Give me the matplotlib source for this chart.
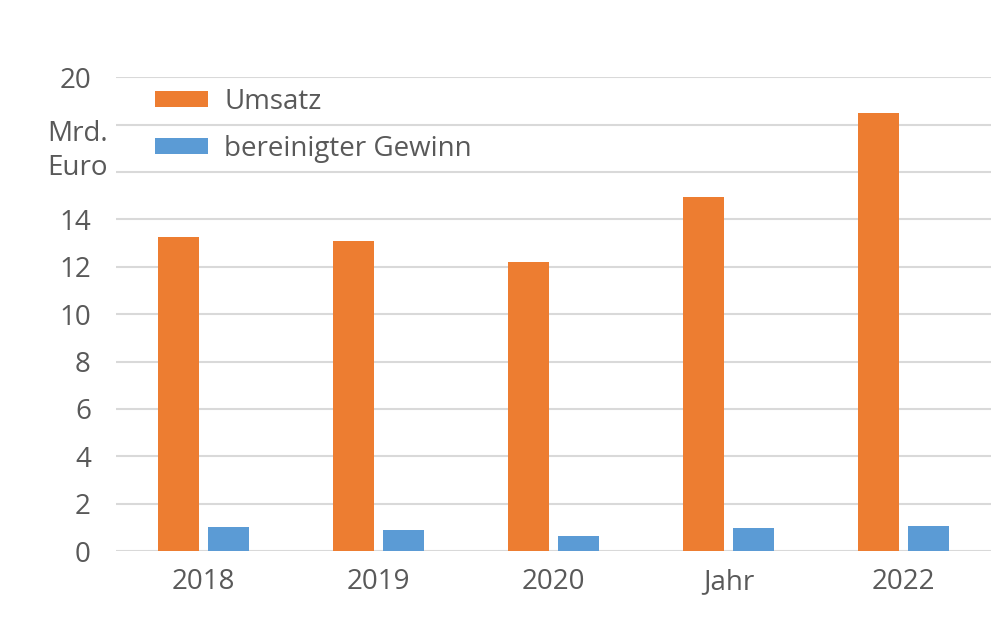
import matplotlib.pyplot as plt
import numpy as np

categories = ['2018', '2019', '2020', 'Jahr', '2022']
umsatz = [13.25, 13.1, 12.2, 14.95, 18.5]
gewinn = [1.0, 0.9, 0.65, 0.97, 1.05]
y_ticks = [0, 2, 4, 6, 8, 10, 12, 14, 16, 18, 20]
y_labels = ['0', '2', '4', '6', '8', '10', '12', '14', '', '', '20']

ORANGE = '#ED7D31'
BLUE = '#5B9BD5'
GREY = '#595959'
FS = 20

plt.rcParams['font.family'] = ['Open Sans', 'DejaVu Sans']

fig = plt.figure(figsize=(10, 6.28), dpi=100)
ax = fig.add_axes([0.116, 0.1226, 0.875, 0.7544])

x = np.arange(len(categories))
ax.bar(x - 0.143, umsatz, width=0.23, color=ORANGE, label='Umsatz', zorder=3)
ax.bar(x + 0.143, gewinn, width=0.23, color=BLUE, label='bereinigter Gewinn', zorder=3)

ax.set_xlim(-0.5, len(categories) - 0.5)
ax.set_ylim(0, 20)
ax.set_yticks(y_ticks)
ax.set_yticklabels(y_labels)
ax.set_xticks(x)
ax.set_xticklabels(categories)
ax.tick_params(axis='both', length=0, labelsize=FS, colors=GREY)
ax.tick_params(axis='y', pad=18)
ax.tick_params(axis='x', pad=12)
ax.grid(axis='y', color='#d9d9d9', linewidth=1.5, zorder=0)
for s in ax.spines.values():
    s.set_visible(False)

fig.text(0.047, 0.759, 'Mrd.\nEuro', fontsize=FS, color=GREY, ha='left', va='center',
         linespacing=1.3)

leg = ax.legend(loc='upper left', bbox_to_anchor=(0.016, 1.03), frameon=False, fontsize=FS,
                handlelength=1.9, handleheight=0.54, labelspacing=0.68, handletextpad=0.6)
for t in leg.get_texts():
    t.set_color(GREY)

fig.savefig('out.png', dpi=100)
